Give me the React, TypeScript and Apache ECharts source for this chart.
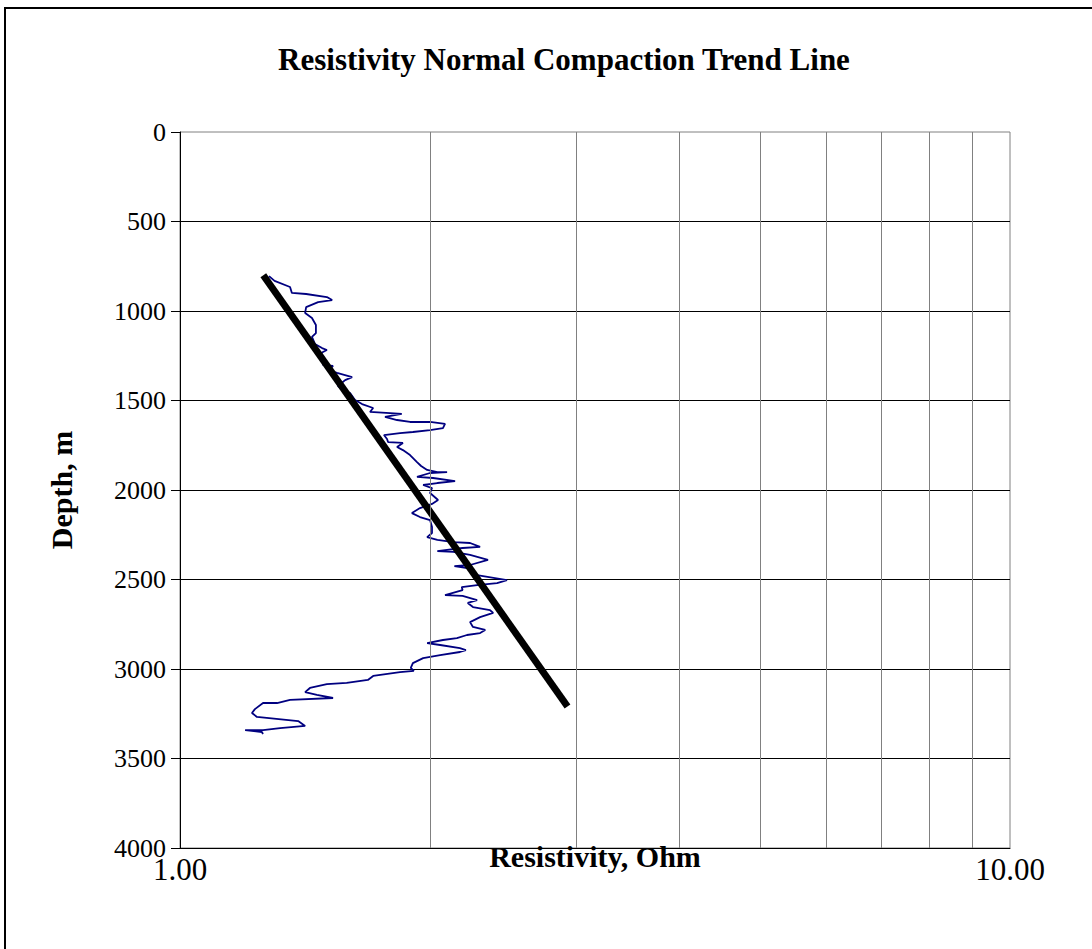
import React, { useEffect, useRef } from "react";
import * as echarts from "echarts";

const chartTitle = "Resistivity Normal Compaction Trend Line";
const xAxisTitle = "Resistivity, Ohm";
const yAxisTitle = "Depth, m";

// Resistivity log (Ohm) versus depth (m)
const resistivity = [
  1.28, 1.30, 1.357, 1.364, 1.419, 1.503, 1.525, 1.467, 1.419, 1.415,
  1.442, 1.458, 1.458, 1.442, 1.454, 1.483, 1.503, 1.479, 1.495, 1.487,
  1.529, 1.508, 1.546, 1.612, 1.581, 1.55, 1.571, 1.603, 1.625, 1.657,
  1.709, 1.694, 1.791, 1.85, 1.766, 1.826, 1.893, 2.001, 2.086, 2.074,
  2.001, 1.908, 1.841, 1.761, 1.776, 1.781, 1.856, 1.826, 1.856, 1.893,
  1.93, 1.952, 1.985, 2.042, 2.098, 2.001, 1.93, 2.018, 2.145, 2.042,
  1.963, 2.012, 2.001, 2.046, 2.012, 1.946, 1.903, 1.946, 2.001, 2.012,
  2.012, 1.985, 2.042, 2.135, 2.236, 2.299, 2.19, 2.042, 2.135, 2.236,
  2.35, 2.236, 2.141, 2.248, 2.28, 2.477, 2.41, 2.28, 2.185, 2.19,
  2.086, 2.19, 2.28, 2.222, 2.254, 2.363, 2.384, 2.299, 2.236, 2.254,
  2.332, 2.299, 2.217, 2.156, 2.074, 1.985, 2.058, 2.174, 2.21, 2.174,
  2.058, 1.963, 1.908, 1.897, 1.913, 1.841, 1.709, 1.684, 1.588, 1.503,
  1.434, 1.415, 1.462, 1.529, 1.357, 1.309, 1.259, 1.231, 1.221, 1.238,
  1.388, 1.415, 1.32, 1.259, 1.198, 1.255, 1.259,
];
const depth = [
  805, 832, 866, 899, 905, 922, 939, 950, 978, 1011,
  1039, 1078, 1123, 1145, 1184, 1207, 1218, 1235, 1274, 1302,
  1307, 1330, 1346, 1369, 1386, 1419, 1441, 1458, 1497, 1520,
  1542, 1564, 1570, 1575, 1592, 1609, 1620, 1620, 1631, 1654,
  1665, 1676, 1682, 1693, 1715, 1732, 1737, 1760, 1777, 1805,
  1844, 1866, 1888, 1900, 1900, 1905, 1927, 1933, 1950, 1961,
  1972, 1989, 2017, 2056, 2078, 2101, 2129, 2151, 2168, 2207,
  2240, 2263, 2279, 2291, 2296, 2318, 2324, 2341, 2346, 2363,
  2391, 2419, 2425, 2441, 2475, 2503, 2520, 2531, 2542, 2559,
  2587, 2592, 2615, 2631, 2654, 2671, 2687, 2710, 2738, 2765,
  2782, 2799, 2810, 2827, 2838, 2855, 2866, 2883, 2894, 2905,
  2922, 2939, 2967, 2994, 3011, 3017, 3039, 3061, 3078, 3084,
  3106, 3129, 3145, 3162, 3173, 3190, 3190, 3224, 3246, 3268,
  3291, 3318, 3330, 3341, 3341, 3352, 3363,
];

// Normal compaction trend line end points
const trendResistivity = [1.26, 2.93];
const trendDepth = [800, 3210];

// Axis ranges
const xMin = 1;
const xMax = 10;
const yMin = 0;
const yMax = 4000;
const yInterval = 500;
const minorGridValues = [2, 3, 4, 5, 6, 7, 8, 9];

const FONT = "'Liberation Serif', 'Times New Roman', serif";

export default function App() {
  const ref = useRef<HTMLDivElement>(null);

  useEffect(() => {
    document.body.style.margin = "0";
    if (!ref.current) return;
    const chart = echarts.init(ref.current, undefined, { renderer: "svg" });

    const curveData = resistivity.map((r, i) => [r, depth[i]]);
    const trendData = trendResistivity.map((r, i) => [r, trendDepth[i]]);

    chart.setOption({
      animation: false,
      backgroundColor: "#ffffff",
      title: {
        text: chartTitle,
        left: 559,
        top: 39,
        textAlign: "center",
        textStyle: {
          fontFamily: FONT,
          fontWeight: "bold",
          fontSize: 31,
          color: "#000",
        },
      },
      graphic: [
        {
          type: "rect",
          shape: { x: 5, y: 8, width: 1200, height: 1100 },
          style: { fill: "none", stroke: "#000", lineWidth: 2 },
          silent: true,
          z: -1,
        },
      ],
      grid: {
        left: 180,
        right: 82,
        top: 132,
        bottom: 101,
        show: true,
        borderColor: "#808080",
        borderWidth: 1,
        backgroundColor: "transparent",
      },
      xAxis: {
        type: "log",
        logBase: 10,
        min: xMin,
        max: xMax,
        name: xAxisTitle,
        nameLocation: "middle",
        nameGap: 8,
        nameMoveOverlap: false,
        nameTextStyle: {
          fontFamily: FONT,
          fontWeight: "bold",
          fontSize: 30,
          color: "#000",
          verticalAlign: "middle",
        },
        axisLine: { show: true, onZero: false, lineStyle: { color: "#000", width: 1 } },
        axisTick: { show: false },
        axisLabel: {
          fontFamily: FONT,
          fontSize: 31,
          color: "#000",
          margin: 6,
          formatter: (v: number) => v.toFixed(2),
        },
        splitLine: { show: false },
      },
      yAxis: {
        type: "value",
        inverse: true,
        min: yMin,
        max: yMax,
        interval: yInterval,
        name: yAxisTitle,
        nameLocation: "middle",
        nameGap: 104,
        nameRotate: 90,
        nameTextStyle: {
          fontFamily: FONT,
          fontWeight: "bold",
          fontSize: 30,
          color: "#000",
        },
        axisLine: { show: true, onZero: false, lineStyle: { color: "#000", width: 1 } },
        axisTick: { show: true, inside: false, length: 9, lineStyle: { color: "#000" } },
        axisLabel: {
          fontFamily: FONT,
          fontSize: 26,
          color: "#000",
          margin: 14,
          formatter: (v: number) => String(v),
        },
        splitLine: {
          show: true,
          showMinLine: false,
          showMaxLine: false,
          lineStyle: { color: "#000", width: 1 },
        },
      },
      series: [
        {
          type: "line",
          name: "grid",
          data: [],
          silent: true,
          z: 1,
          markLine: {
            silent: true,
            symbol: ["none", "none"],
            label: { show: false },
            lineStyle: { color: "#808080", width: 1, type: "solid" },
            data: minorGridValues.map((v) => ({ xAxis: v })),
          },
        },
        {
          type: "line",
          name: "Resistivity",
          data: curveData,
          showSymbol: false,
          smooth: false,
          z: 3,
          lineStyle: { color: "#000080", width: 1.8 },
        },
        {
          type: "line",
          name: "Trend",
          data: trendData,
          showSymbol: false,
          z: 4,
          lineStyle: { color: "#000", width: 7 },
        },
      ],
    });

    return () => chart.dispose();
  }, []);

  return <div ref={ref} style={{ width: 1092, height: 949 }} />;
}
